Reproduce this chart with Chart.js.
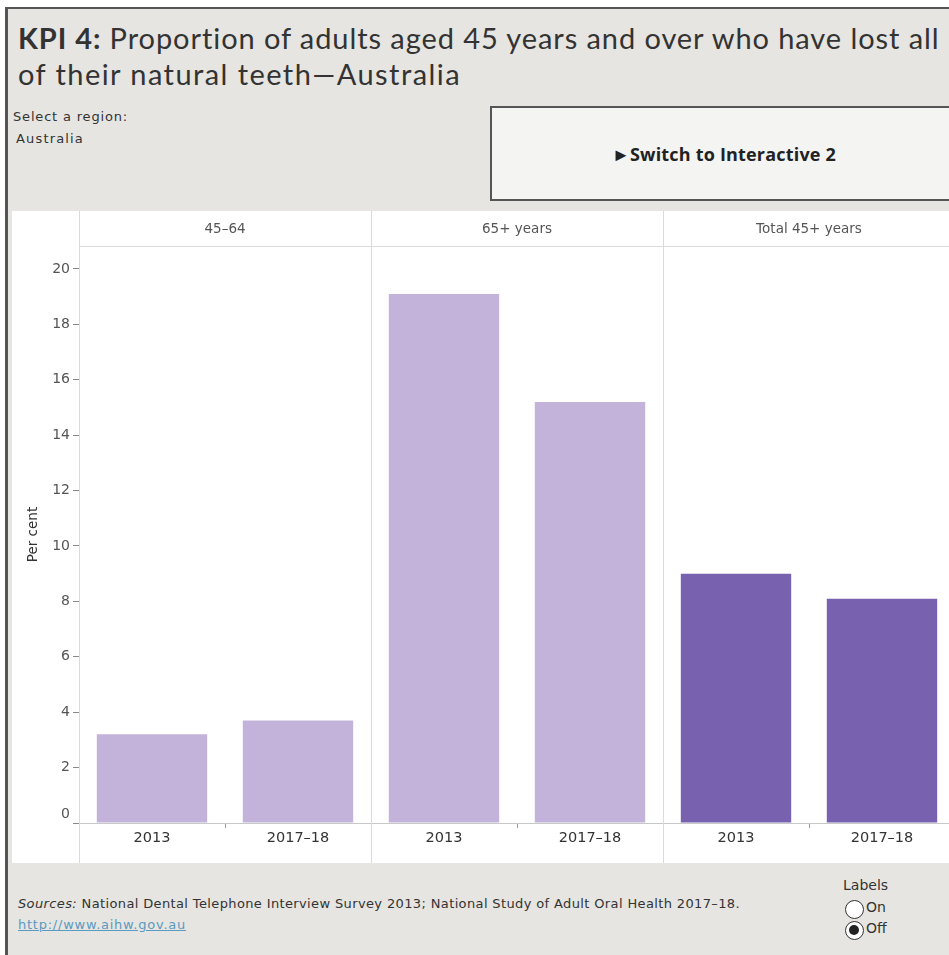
<!DOCTYPE html>
<html>
<head>
<meta charset="utf-8">
<script src="https://cdn.jsdelivr.net/npm/chart.js@4"></script>
<style>
  html, body { margin:0; padding:0; background:#ffffff; overflow:hidden; width:949px; height:955px; }
  #frame { position:absolute; left:5px; top:7px; width:960px; height:960px; background:#e6e5e1;
           border-left:3px solid #555; border-top:2px solid #555; box-sizing:border-box; }
  .t { position:absolute; white-space:nowrap; color:#333; font-family:"DejaVu Sans", sans-serif; }
  .tl { position:absolute; left:18px; white-space:nowrap; font-family:"Lato", sans-serif; font-size:29px; line-height:36px; color:#333; }
  .tl b { font-weight:700; }
  #btn { position:absolute; left:490px; top:106px; width:480px; height:95px; box-sizing:border-box;
         border:2px solid #555; background:#f4f4f3; }
  #btnText { position:absolute; left:612px; top:142px; font-weight:700; font-size:18px; color:#222; font-family:"Open Sans", sans-serif; }
  #panel { position:absolute; left:12px; top:211px; width:960px; height:652px; background:#fff; }
  #chartCanvas { position:absolute; left:12px; top:211px; }
  .radio { position:absolute; width:19px; height:19px; border:1.3px solid #333; border-radius:50%; box-sizing:border-box; background:#fff; }
  .radio.sel::after { content:""; position:absolute; left:3px; top:3px; width:10px; height:10px; border-radius:50%; background:#222; }
  a { color:#5a9ac0; }
</style>
</head>
<body>
<div id="frame"></div>
<div id="tl1" class="tl" style="top:20px;"><b>KPI 4:</b> Proportion of adults aged 45 years and over who have lost all</div>
<div id="tl2" class="tl" style="top:56px;">of their natural teeth—Australia</div>
<div id="sel1" class="t" style="left:13px; top:109px; font-size:13px;">Select a region:</div>
<div id="sel2" class="t" style="left:16px; top:131px; font-size:13px;">Australia</div>
<div id="btn"></div>
<div id="btnText" class="t">►Switch to Interactive 2</div>
<div id="panel"></div>
<canvas id="chartCanvas" width="950" height="652"></canvas>
<div id="src" class="t" style="left:18px; top:896px; font-size:13px;"><i>Sources:</i> National Dental Telephone Interview Survey 2013; National Study of Adult Oral Health 2017–18.</div>
<div id="lnk" class="t" style="left:18px; top:917px; font-size:13px;"><a href="#">http://www.aihw.gov.au</a></div>
<div class="t" style="left:843px; top:877px; font-size:14px;">Labels</div>
<div class="radio" style="left:845px; top:900px;"></div>
<div class="t" style="left:866px; top:899px; font-size:14px;">On</div>
<div class="radio sel" style="left:845px; top:921px;"></div>
<div class="t" style="left:866px; top:920px; font-size:14px;">Off</div>
<script>
// ---- data ----
const groups = ['45–64', '65+ years', 'Total 45+ years'];
const periods = ['2013', '2017–18'];
const values4564 = [3.2, 3.7];
const values65plus = [19.1, 15.2];
const valuesTotal = [9.0, 8.1];
const yTicks = [0, 2, 4, 6, 8, 10, 12, 14, 16, 18, 20];

// ---- text width fitting (layout only) ----
function fitWidth(id, target) {
  const el = document.getElementById(id);
  el.style.letterSpacing = '0px';
  const w = el.getBoundingClientRect().width;
  const n = el.textContent.length;
  el.style.letterSpacing = ((target - w) / n) + 'px';
}
fitWidth('tl1', 922);
fitWidth('tl2', 443);
fitWidth('btnText', 224);
fitWidth('src', 722);
fitWidth('sel1', 115);
fitWidth('sel2', 68);
fitWidth('lnk', 168);

// ---- build ----
const groupValues = [values4564, values65plus, valuesTotal];
const labels = [];
const data = [];
groups.forEach((g, gi) => {
  periods.forEach((p, pi) => { labels.push(p); data.push(groupValues[gi][pi]); });
});
const LIGHT = '#c3b3da', DARK = '#7862b0';
const FONT = '"DejaVu Sans", sans-serif';

const panelPlugin = {
  id: 'panels',
  beforeDatasetsDraw(chart) {
    const { ctx, chartArea, scales } = chart;
    const x = scales.x;
    const n = periods.length;
    ctx.save();
    ctx.strokeStyle = '#dadada';
    ctx.lineWidth = 1;
    ctx.beginPath();
    ctx.moveTo(chartArea.left, chartArea.top + 0.5);
    ctx.lineTo(chartArea.right, chartArea.top + 0.5);
    ctx.stroke();
    for (let gi = 0; gi <= groups.length; gi++) {
      let px;
      if (gi === 0) px = chartArea.left;
      else if (gi === groups.length) px = chartArea.right;
      else px = (x.getPixelForValue(gi * n - 1) + x.getPixelForValue(gi * n)) / 2;
      px = Math.round(px) + 0.5;
      ctx.beginPath();
      ctx.moveTo(px, 0);
      ctx.lineTo(px, chart.height);
      ctx.stroke();
    }
    ctx.fillStyle = '#555';
    ctx.font = '13.5px ' + FONT;
    ctx.textAlign = 'center';
    ctx.textBaseline = 'middle';
    groups.forEach((g, gi) => {
      const cx = (x.getPixelForValue(gi * n) + x.getPixelForValue(gi * n + n - 1)) / 2;
      ctx.fillText(g, cx, chartArea.top / 2 + 1);
    });
    ctx.restore();
  }
};

new Chart(document.getElementById('chartCanvas'), {
  type: 'bar',
  data: {
    labels: labels,
    datasets: [{
      data: data,
      backgroundColor: (c) => (Math.floor(c.dataIndex / periods.length) === groups.length - 1 ? DARK : LIGHT),
      barPercentage: 0.756,
      categoryPercentage: 1.0,
      borderWidth: 0
    }]
  },
  options: {
    responsive: false,
    animation: false,
    devicePixelRatio: 1,
    layout: { padding: { top: 35, right: 7, left: 0, bottom: 0 } },
    plugins: { legend: { display: false }, tooltip: { enabled: false } },
    scales: {
      x: {
        offset: true,
        grid: { offset: true, drawOnChartArea: false, drawTicks: true, tickLength: 5, color: '#999', tickColor: '#999' },
        border: { display: true, color: '#c8c8c8' },
        ticks: { color: '#333', font: { family: FONT, size: 14.5 }, padding: 2, maxRotation: 0, autoSkip: false },
        afterFit: (s) => { s.height = 40; }
      },
      y: {
        min: 0,
        max: 20.83,
        afterBuildTicks: (s) => { s.ticks = yTicks.map(v => ({ value: v })); },
        grid: { drawOnChartArea: false, drawTicks: true, tickLength: 6, color: '#999', tickColor: '#888' },
        border: { display: false },
        ticks: {
          color: '#555',
          font: { family: FONT, size: 14 },
          padding: 3,
          callback: (v) => (v === 0 ? ['0', ''] : String(v))
        },
        title: { display: true, text: 'Per cent', color: '#333', font: { family: FONT, size: 13.5 }, padding: { top: 13, bottom: 0 } },
        afterFit: (s) => { s.width = 67; }
      }
    }
  },
  plugins: [panelPlugin]
});
</script>
</body>
</html>
